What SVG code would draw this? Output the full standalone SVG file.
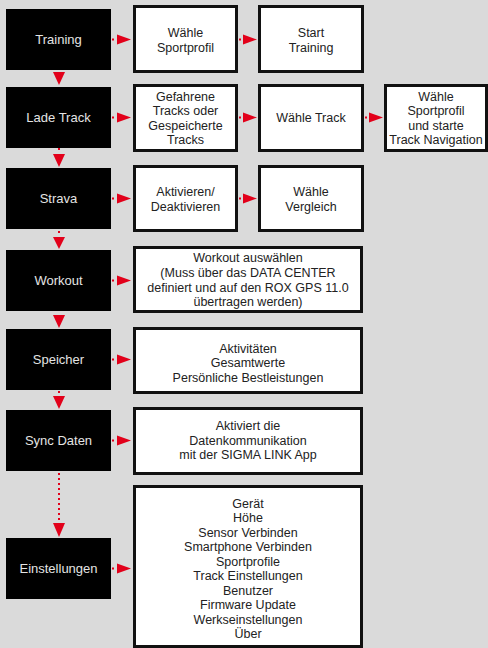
<svg xmlns="http://www.w3.org/2000/svg" width="488" height="648" viewBox="0 0 488 648">
<style>
.bg{fill:#dadada}
.menu rect{fill:#000}
.menu text{fill:#e4e4e4;font-family:"Liberation Sans",Arial,sans-serif;font-size:13px;text-anchor:middle}
.opt rect{fill:#fff;stroke:#111;stroke-width:3}
.opt text{fill:#222;font-family:"Liberation Sans",Arial,sans-serif;font-size:12.5px;text-anchor:middle}
.dot{stroke:#e2001a;stroke-width:2;stroke-dasharray:2 3;fill:none}
.head{fill:#e2001a}
</style>
<rect class="bg" x="0" y="0" width="488" height="648"/>

<g id="connectors">
  <!-- horizontal arrows -->
  <g id="h-training-1"><rect class="head" x="112" y="38.5" width="2" height="2"/><polygon class="head" points="117,34.5 131,39.5 117,44.5"/></g>
  <g id="h-training-2"><rect class="head" x="239" y="38.5" width="2" height="2"/><polygon class="head" points="243,34.5 257,39.5 243,44.5"/></g>
  <g id="h-lade-1"><rect class="head" x="112" y="116.5" width="2" height="2"/><polygon class="head" points="117,112.5 131,117.5 117,122.5"/></g>
  <g id="h-lade-2"><rect class="head" x="239" y="116.5" width="2" height="2"/><polygon class="head" points="243,112.5 257,117.5 243,122.5"/></g>
  <g id="h-lade-3"><rect class="head" x="365" y="116.5" width="2" height="2"/><polygon class="head" points="369,112.5 383,117.5 369,122.5"/></g>
  <g id="h-strava-1"><rect class="head" x="112" y="197.5" width="2" height="2"/><polygon class="head" points="117,193.5 131,198.5 117,203.5"/></g>
  <g id="h-strava-2"><rect class="head" x="239" y="197.5" width="2" height="2"/><polygon class="head" points="243,193.5 257,198.5 243,203.5"/></g>
  <g id="h-workout"><rect class="head" x="112" y="279.5" width="2" height="2"/><polygon class="head" points="117,275.5 131,280.5 117,285.5"/></g>
  <g id="h-speicher"><rect class="head" x="112" y="358.5" width="2" height="2"/><polygon class="head" points="117,354.5 131,359.5 117,364.5"/></g>
  <g id="h-sync"><rect class="head" x="112" y="439.5" width="2" height="2"/><polygon class="head" points="117,435.5 131,440.5 117,445.5"/></g>
  <g id="h-einst"><rect class="head" x="112" y="567.5" width="2" height="2"/><polygon class="head" points="117,563.5 131,568.5 117,573.5"/></g>
  <!-- vertical arrows -->
  <polygon class="head" points="53,72 65,72 59,85"/>
  <rect class="head" x="58" y="148" width="2" height="2"/><polygon class="head" points="53,154 65,154 59,167"/>
  <rect class="head" x="58" y="231" width="2" height="2"/><polygon class="head" points="53,237 65,237 59,249"/>
  <polygon class="head" points="53,315 65,315 59,328"/>
  <rect class="head" x="58" y="391" width="2" height="2"/><polygon class="head" points="53,396 65,396 59,409"/>
  <line class="dot" x1="59" y1="473" x2="59" y2="521"/><polygon class="head" points="53,523 65,523 59,537"/>
</g>

<g id="menu-training" class="menu"><rect x="6" y="9" width="105" height="61"/><text x="58.5" y="44">Training</text></g>
<g id="menu-lade" class="menu"><rect x="6" y="87" width="105" height="61"/><text x="58.5" y="122">Lade Track</text></g>
<g id="menu-strava" class="menu"><rect x="6" y="168" width="105" height="61"/><text x="58.5" y="203">Strava</text></g>
<g id="menu-workout" class="menu"><rect x="6" y="250" width="105" height="61"/><text x="58.5" y="285">Workout</text></g>
<g id="menu-speicher" class="menu"><rect x="6" y="329" width="105" height="61"/><text x="58.5" y="364">Speicher</text></g>
<g id="menu-sync" class="menu"><rect x="6" y="410" width="105" height="61"/><text x="58.5" y="445">Sync Daten</text></g>
<g id="menu-einst" class="menu"><rect x="6" y="538" width="105" height="61"/><text x="58.5" y="573">Einstellungen</text></g>

<g id="opt-sportprofil" class="opt"><rect x="134.5" y="6.5" width="102" height="65"/>
  <text x="185.5" y="37">Wähle</text><text x="185.5" y="51.5">Sportprofil</text></g>
<g id="opt-start" class="opt"><rect x="259.5" y="6.5" width="103" height="65"/>
  <text x="311" y="37">Start</text><text x="311" y="51.5">Training</text></g>

<g id="opt-tracks" class="opt"><rect x="134.5" y="85.5" width="102" height="65"/>
  <text x="185.5" y="100.5">Gefahrene</text><text x="185.5" y="115">Tracks oder</text><text x="185.5" y="129.5">Gespeicherte</text><text x="185.5" y="144">Tracks</text></g>
<g id="opt-waehletrack" class="opt"><rect x="259.5" y="85.5" width="103" height="65"/>
  <text x="311" y="122">Wähle Track</text></g>
<g id="opt-navigation" class="opt"><rect x="385.5" y="85.5" width="101" height="65"/>
  <text x="436" y="100.5">Wähle</text><text x="436" y="115">Sportprofil</text><text x="436" y="129.5">und starte</text><text x="436" y="144">Track Navigation</text></g>

<g id="opt-aktivieren" class="opt"><rect x="134.5" y="166.5" width="102" height="64"/>
  <text x="185.5" y="196">Aktivieren/</text><text x="185.5" y="210.5">Deaktivieren</text></g>
<g id="opt-vergleich" class="opt"><rect x="259.5" y="166.5" width="103" height="64"/>
  <text x="311" y="196">Wähle</text><text x="311" y="210.5">Vergleich</text></g>

<g id="opt-workout" class="opt"><rect x="134.5" y="247.5" width="227" height="64"/>
  <text x="248" y="262">Workout auswählen</text><text x="248" y="276.8">(Muss über das DATA CENTER</text><text x="248" y="291.6">definiert und auf den ROX GPS 11.0</text><text x="248" y="306.4">übertragen werden)</text></g>

<g id="opt-speicher" class="opt"><rect x="134.5" y="328.5" width="227" height="64"/>
  <text x="248" y="352.5">Aktivitäten</text><text x="248" y="367">Gesamtwerte</text><text x="248" y="381.5">Persönliche Bestleistungen</text></g>

<g id="opt-sync" class="opt"><rect x="134.5" y="408.5" width="227" height="65"/>
  <text x="248" y="430">Aktiviert die</text><text x="248" y="444.5">Datenkommunikation</text><text x="248" y="459">mit der SIGMA LINK App</text></g>

<g id="opt-einst" class="opt"><rect x="134.5" y="486.5" width="227" height="160"/>
  <text x="248" y="507.5">Gerät</text><text x="248" y="522">Höhe</text><text x="248" y="536.5">Sensor Verbinden</text><text x="248" y="551">Smartphone Verbinden</text><text x="248" y="565.5">Sportprofile</text><text x="248" y="580">Track Einstellungen</text><text x="248" y="594.5">Benutzer</text><text x="248" y="609">Firmware Update</text><text x="248" y="623.5">Werkseinstellungen</text><text x="248" y="638">Über</text></g>
</svg>
